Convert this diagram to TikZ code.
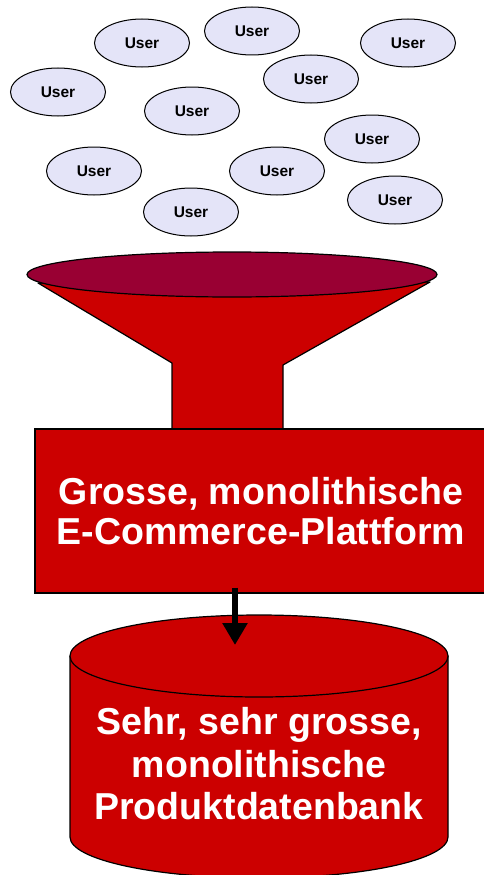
\documentclass[tikz,border=0pt]{standalone}
\usepackage{fontspec}
\setmainfont{Liberation Sans}
\usetikzlibrary{arrows.meta,shapes.geometric}
\definecolor{plred}{HTML}{CC0000}
\definecolor{funneltop}{HTML}{990033}
\definecolor{userfill}{HTML}{E4E4F8}
\tikzset{
  userbox/.style={ellipse, draw=black, line width=1pt, fill=userfill,
                  minimum width=95pt, minimum height=48pt, inner sep=0pt,
                  font=\fontsize{15.5}{17}\selectfont\bfseries},
  platbox/.style={draw=black, line width=1.2pt, fill=plred, text=white,
                  minimum width=452pt, minimum height=164pt, align=center,
                  font=\fontsize{37.5}{40}\selectfont\bfseries},
  dbtext/.style={text=white, align=center,
                 font=\fontsize{37.5}{42.5}\selectfont\bfseries},
  edge/.style={draw=black, line width=1.2pt, line join=round},
  arr/.style={-{Triangle[length=22pt, width=24pt]}, line width=6pt}}
\begin{document}
\begin{tikzpicture}[x=1pt, y=-1pt]
  \useasboundingbox (0,0) rectangle (483,875);
  % the crowd of users
  \node[userbox] (u1)  at (142,43)  {User};
  \node[userbox] (u2)  at (252,31)  {User};
  \node[userbox] (u3)  at (408,43)  {User};
  \node[userbox] (u4)  at (58,92)   {User};
  \node[userbox] (u5)  at (311,79)  {User};
  \node[userbox] (u6)  at (192,111) {User};
  \node[userbox] (u7)  at (372,139) {User};
  \node[userbox] (u8)  at (94,171)  {User};
  \node[userbox] (u9)  at (277,171) {User};
  \node[userbox] (u10) at (395,200) {User};
  \node[userbox] (u11) at (191,212) {User};
  % funnel: cone and stem, then the opening
  \filldraw[edge, fill=plred] (38,283) -- (172,363) -- (172,431)
    -- (283,431) -- (283,365) -- (430,282) -- cycle;
  \filldraw[edge, fill=funneltop] (232,274.5) ellipse [x radius=205, y radius=22.5];
  % the platform
  \node[platbox] (plat) at (261,511)
    {Grosse, monolithische\\E-Commerce-Plattform};
  % database cylinder
  \filldraw[edge, fill=plred] (70,656) -- (70,837)
    arc [start angle=180, end angle=360, x radius=189, y radius=-41]
    -- (448,656) -- cycle;
  \filldraw[edge, fill=plred] (259,656) ellipse [x radius=189, y radius=41];
  \node[dbtext] (db) at (259,764)
    {Sehr, sehr grosse,\\monolithische\\Produktdatenbank};
  \coordinate (dbin) at (235,645);
  \draw[arr] ([yshift=6pt]plat.south -| dbin) -- (dbin);
\end{tikzpicture}
\end{document}
